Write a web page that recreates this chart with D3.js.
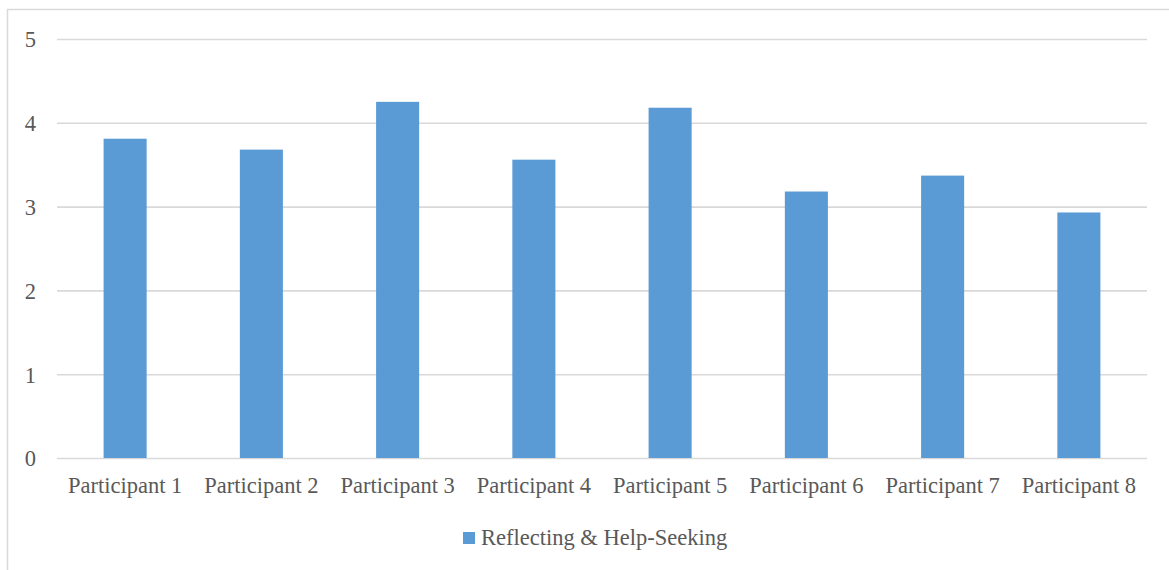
<!DOCTYPE html>
<html>
<head>
<meta charset="utf-8">
<script src="https://cdn.jsdelivr.net/npm/d3@7"></script>
<style>
  html, body { margin: 0; padding: 0; background: #fff; }
  svg { display: block; }
</style>
</head>
<body>
<script>
const categories = ["Participant 1","Participant 2","Participant 3","Participant 4","Participant 5","Participant 6","Participant 7","Participant 8"];
const values = [3.81, 3.68, 4.25, 3.56, 4.18, 3.18, 3.37, 2.93];
const seriesName = "Reflecting & Help-Seeking";
const yTicks = [0, 1, 2, 3, 4, 5];

const W = 1169, H = 570;
const margin = { left: 57, right: 22, top: 39, bottom: 112 };
const svg = d3.select("body").append("svg").attr("width", W).attr("height", H);

// outer chart border
svg.append("rect")
  .attr("x", 7.5).attr("y", 9.5)
  .attr("width", W + 10).attr("height", H + 10)
  .attr("fill", "none").attr("stroke", "#d9d9d9").attr("stroke-width", 1.5);

const x = d3.scaleBand().domain(categories)
  .range([margin.left, W - margin.right])
  .paddingInner(0.684).paddingOuter(0.342);
const y = d3.scaleLinear().domain([0, 5]).range([H - margin.bottom, margin.top]);

const font = "'Liberation Serif', 'Times New Roman', serif";
const textColor = "#595959";
const fs = "22.5px";

// gridlines
const yAxis = d3.axisLeft(y).tickValues(yTicks).tickFormat(d3.format("d"))
  .tickSize(-(W - margin.right - margin.left)).tickPadding(21);
const gy = svg.append("g").attr("transform", `translate(${margin.left},0)`).call(yAxis);
gy.select(".domain").remove();
gy.selectAll(".tick line").attr("stroke", "#d9d9d9").attr("stroke-width", 1.6);
gy.selectAll(".tick text").attr("fill", textColor).style("font-family", font).style("font-size", fs).attr("dy", "0.35em");

// bars
svg.append("g").selectAll("rect").data(values).join("rect")
  .attr("x", (d, i) => x(categories[i]))
  .attr("y", d => y(d))
  .attr("width", x.bandwidth())
  .attr("height", d => y(0) - y(d))
  .attr("fill", "#5b9bd5");

// x axis labels
const xAxis = d3.axisBottom(x).tickSize(0).tickPadding(19);
const gx = svg.append("g").attr("transform", `translate(0,${y(0)})`).call(xAxis);
gx.select(".domain").remove();
gx.selectAll(".tick text").attr("fill", textColor).style("font-family", font).style("font-size", fs);

// legend
const lg = svg.append("g");
lg.append("rect").attr("x", 463).attr("y", 532).attr("width", 12).attr("height", 12).attr("fill", "#5b9bd5");
lg.append("text").attr("x", 481).attr("y", 545)
  .attr("fill", textColor).style("font-family", font).style("font-size", fs)
  .text(seriesName);
</script>
</body>
</html>
